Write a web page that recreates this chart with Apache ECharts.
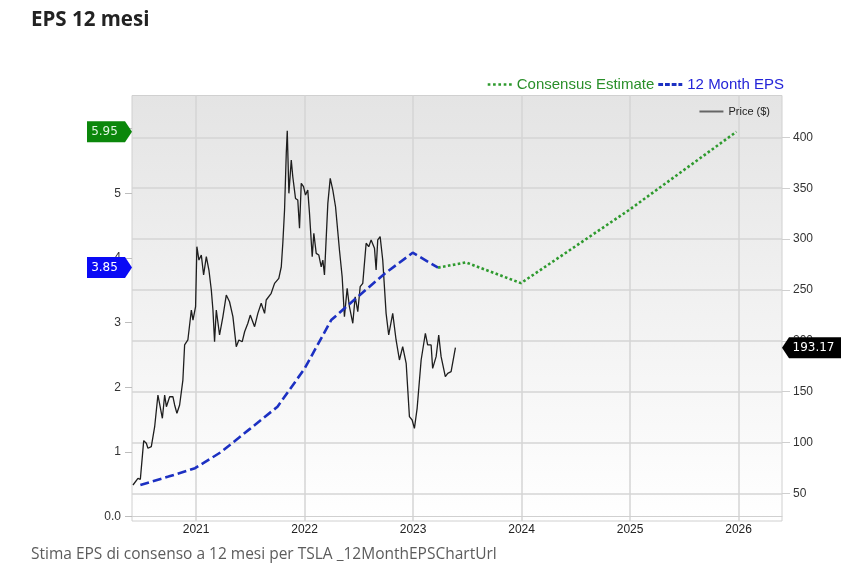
<!DOCTYPE html>
<html>
<head>
<meta charset="utf-8">
<script src="https://cdn.jsdelivr.net/npm/echarts@6/dist/echarts.min.js"></script>
<style>
  html, body { margin: 0; padding: 0; background: #ffffff; }
  #chart { width: 859px; height: 583px; }
</style>
</head>
<body>
<div id="chart"></div>
<script>
// ---- Data (years as decimal years) ----
const priceYears = [2020.418,2020.464,2020.486,2020.517,2020.541,2020.556,2020.587,2020.618,2020.648,2020.689,2020.710,2020.726,2020.756,2020.786,2020.802,2020.823,2020.848,2020.878,2020.894,2020.924,2020.956,2020.971,2020.995,2021.007,2021.026,2021.048,2021.069,2021.094,2021.118,2021.140,2021.155,2021.170,2021.186,2021.216,2021.247,2021.278,2021.308,2021.339,2021.370,2021.394,2021.425,2021.447,2021.477,2021.499,2021.539,2021.569,2021.600,2021.631,2021.646,2021.692,2021.723,2021.762,2021.785,2021.799,2021.815,2021.831,2021.840,2021.855,2021.877,2021.891,2021.916,2021.937,2021.953,2021.969,2021.990,2022.008,2022.029,2022.045,2022.070,2022.085,2022.107,2022.131,2022.153,2022.168,2022.183,2022.214,2022.236,2022.260,2022.285,2022.300,2022.321,2022.346,2022.367,2022.392,2022.413,2022.444,2022.466,2022.490,2022.512,2022.536,2022.567,2022.591,2022.613,2022.644,2022.659,2022.674,2022.696,2022.720,2022.751,2022.775,2022.812,2022.843,2022.874,2022.904,2022.936,2022.966,2022.991,2023.012,2023.037,2023.074,2023.113,2023.134,2023.166,2023.180,2023.212,2023.236,2023.258,2023.273,2023.297,2023.319,2023.350,2023.390];
const priceValues = [58.2,64.8,63.8,101.8,99.2,94.3,95.9,115.5,146.7,123.8,146.7,135.2,145.0,145.0,136.9,128.7,136.9,161.4,195.9,200.8,230.3,220.4,233.5,292.5,279.4,284.3,264.7,282.7,269.6,249.9,230.3,199.1,230.3,205.7,223.7,245.0,238.4,223.7,194.2,200.8,199.1,208.9,217.2,225.3,213.9,227.0,236.9,227.0,240.1,246.7,256.5,261.4,272.8,295.9,328.6,384.7,406.6,345.0,377.7,361.3,340.0,338.4,310.6,354.8,351.5,343.3,348.2,325.3,282.7,305.7,286.0,284.3,272.8,279.4,264.7,335.1,359.7,348.2,331.8,333.5,289.3,263.0,223.7,251.6,233.5,217.2,243.3,228.6,253.2,256.5,295.9,292.5,299.2,290.9,269.6,299.2,302.4,279.4,227.0,205.7,227.0,200.8,181.1,194.2,177.9,125.4,122.1,113.9,133.6,181.1,207.4,195.9,195.9,172.9,184.4,205.7,184.4,182.8,164.7,168.0,169.6,193.17];

const epsYears = [2020.486,2020.745,2020.990,2021.230,2021.490,2021.750,2022.000,2022.245,2022.490,2022.740,2022.996,2023.230];
const epsValues = [0.49,0.62,0.75,1.00,1.35,1.70,2.29,3.04,3.40,3.76,4.08,3.85];

const consYears = [2023.230,2023.488,2023.994,2024.990,2025.980];
const consValues = [3.85,3.93,3.61,4.74,5.95];

const xTicks = [2021,2022,2023,2024,2025,2026];
const epsTicks = [0,1,2,3,4,5,6];
const priceTicks = [50,100,150,200,250,300,350,400];

const X_MIN = 2020.409, X_MAX = 2026.40;
const EPS_MIN = -0.066, EPS_MAX = 6.51;
const PRICE_MIN = 22.8, PRICE_MAX = 441.2;

const pairs = (xs, ys) => xs.map((x, i) => [x, ys[i]]);
const last = a => a[a.length - 1];

const chart = echarts.init(document.getElementById('chart'), null, { renderer: 'canvas' });

const axisFont = 'Liberation Sans, Arial, sans-serif';
const flagLabel = {
  show: true, color: '#ffffff', fontSize: 12, fontFamily: 'DejaVu Sans, sans-serif'
};
// legend icons (line samples)
const dottedIcon = 'path://M0,0h2.5v2.5h-2.5z M5,0h2.5v2.5h-2.5z M10,0h2.5v2.5h-2.5z M15,0h2.5v2.5h-2.5z M20,0h2.5v2.5h-2.5z';
const dashedIcon = 'path://M0,0h5v3h-5z M7,0h5v3h-5z M14,0h5v3h-5z M21,0h4v3h-4z';
const solidIcon = 'path://M0,0h24v2h-24z';

chart.setOption({
  animation: false,
  backgroundColor: '#ffffff',
  title: [
    { text: 'EPS 12 mesi', left: 31, top: 10, padding: 0,
      textStyle: { fontFamily: 'Open Sans', fontWeight: 'bold', fontSize: 20.5, color: '#222222' } },
    { text: 'Stima EPS di consenso a 12 mesi per TSLA _12MonthEPSChartUrl', left: 31, top: 547, padding: 0,
      textStyle: { fontFamily: 'Open Sans', fontWeight: 'normal', fontSize: 15.5, color: '#5c5c5c' } }
  ],
  legend: [
    { right: 75, top: 77, padding: 0, itemGap: 4, itemWidth: 24, itemHeight: 10,
      textStyle: { fontFamily: axisFont, fontSize: 15 },
      data: [
        { name: 'Consensus Estimate', icon: dottedIcon, textStyle: { color: '#2a8f2a' } },
        { name: '12 Month EPS', icon: dashedIcon, textStyle: { color: '#2424d8' } }
      ] },
    { right: 89, top: 106, padding: 0, itemWidth: 24, itemHeight: 10,
      textStyle: { fontFamily: axisFont, fontSize: 11, color: '#222222' },
      data: [ { name: 'Price ($)', icon: solidIcon, itemStyle: { color: '#666666' } } ] }
  ],
  grid: {
    left: 132, right: 77, top: 95.5, bottom: 62,
    show: true, borderColor: '#d0d0d0', borderWidth: 1,
    backgroundColor: new echarts.graphic.LinearGradient(0, 0, 0, 1, [
      { offset: 0, color: '#e4e4e4' }, { offset: 1, color: '#ffffff' }
    ])
  },
  xAxis: {
    type: 'value', min: X_MIN, max: X_MAX,
    axisLine: { show: true, lineStyle: { color: '#d0d0d0' } },
    axisTick: { show: false, customValues: xTicks },
    axisLabel: { customValues: xTicks, margin: 3, color: '#222222', fontSize: 12, fontFamily: axisFont,
                 formatter: v => String(Math.round(v)) },
    splitLine: { show: true, lineStyle: { color: '#d4d4d4', width: 1.5 } }
  },
  yAxis: [
    { type: 'value', position: 'left', min: EPS_MIN, max: EPS_MAX,
      axisLine: { show: false },
      axisTick: { show: true, length: 7, customValues: epsTicks, lineStyle: { color: '#bdbdbd' } },
      axisLabel: { customValues: epsTicks, margin: 11, color: '#333333', fontSize: 12, fontFamily: axisFont,
                   formatter: v => (v === 0 ? '0.0' : String(v)) },
      splitLine: { show: false } },
    { type: 'value', position: 'right', min: PRICE_MIN, max: PRICE_MAX,
      axisLine: { show: false },
      axisTick: { show: true, length: 8, customValues: priceTicks, lineStyle: { color: '#cfcfcf' } },
      axisLabel: { customValues: priceTicks, margin: 11, color: '#333333', fontSize: 12, fontFamily: axisFont },
      splitLine: { show: true, lineStyle: { color: '#d4d4d4', width: 1.5 } } }
  ],
  series: [
    { name: 'Price ($)', type: 'line', yAxisIndex: 1, showSymbol: false, symbol: 'none',
      data: pairs(priceYears, priceValues),
      lineStyle: { color: '#1e1e1e', width: 1.3 }, itemStyle: { color: '#1e1e1e' },
      markPoint: {
        symbol: 'path://M7,0 L59,0 L59,21 L7,21 L0,10.5 Z', symbolSize: [59, 21], symbolOffset: [29.5, 0],
        itemStyle: { color: '#000000' },
        label: Object.assign({}, flagLabel, { offset: [2, 0], formatter: p => Number(p.value).toFixed(2) }),
        data: [ { coord: [X_MAX, last(priceValues)], value: last(priceValues) } ]
      } },
    { name: '12 Month EPS', type: 'line', yAxisIndex: 0, showSymbol: false, symbol: 'none',
      data: pairs(epsYears, epsValues),
      lineStyle: { color: '#1c30c2', width: 2.6, type: [9, 4] }, itemStyle: { color: '#1c30c2' },
      markPoint: {
        symbol: 'path://M0,0 L38,0 L45,10.5 L38,21 L0,21 Z', symbolSize: [45, 21], symbolOffset: [-22.5, 0],
        itemStyle: { color: '#0a0af5' },
        label: Object.assign({}, flagLabel, { offset: [-5, 0], formatter: p => Number(p.value).toFixed(2) }),
        data: [ { coord: [X_MIN, last(epsValues)], value: last(epsValues) } ]
      } },
    { name: 'Consensus Estimate', type: 'line', yAxisIndex: 0, showSymbol: false, symbol: 'none',
      data: pairs(consYears, consValues),
      lineStyle: { color: '#2e9a2e', width: 2.6, type: [2.6, 2.4] }, itemStyle: { color: '#2e9a2e' },
      markPoint: {
        symbol: 'path://M0,0 L38,0 L45,10.5 L38,21 L0,21 Z', symbolSize: [45, 21], symbolOffset: [-22.5, 0],
        itemStyle: { color: '#0b870b' },
        label: Object.assign({}, flagLabel, { color: '#e0f5e0', offset: [-5, 0], formatter: p => Number(p.value).toFixed(2) }),
        data: [ { coord: [X_MIN, last(consValues)], value: last(consValues) } ]
      } }
  ]
});
</script>
</body>
</html>
